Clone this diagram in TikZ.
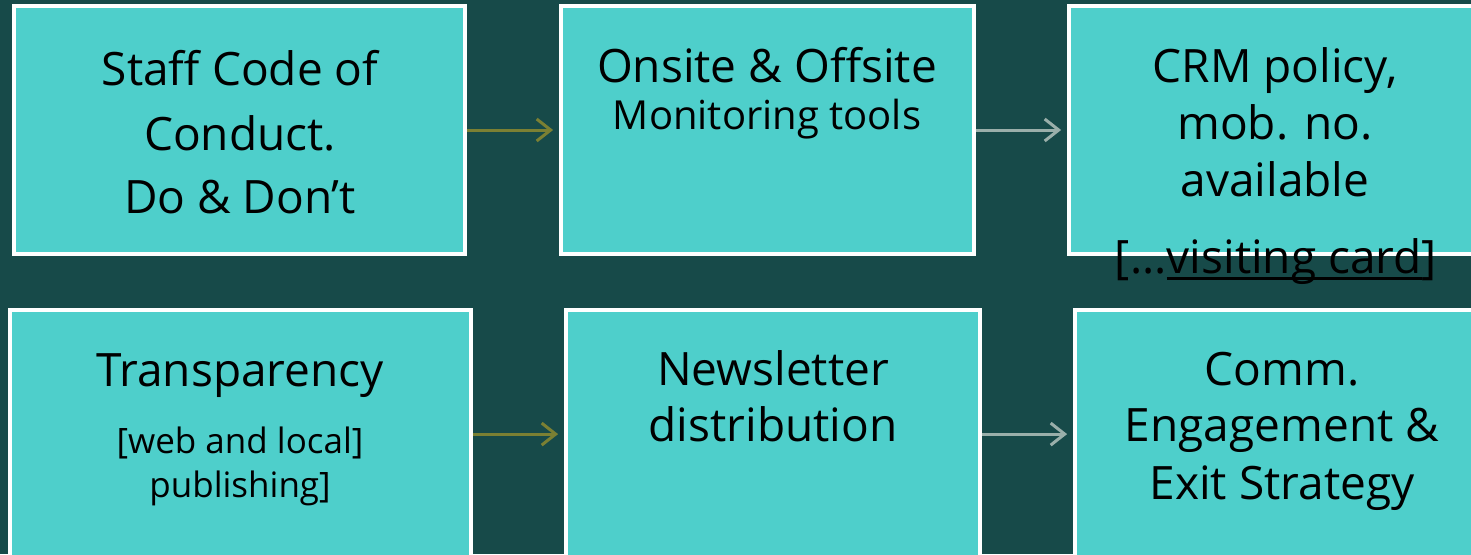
\documentclass[tikz,border=0pt]{standalone}
\usepackage{fontspec}
\setmainfont{Open Sans}
\usetikzlibrary{arrows.meta}
\definecolor{bgc}{HTML}{174A49}
\definecolor{boxc}{HTML}{4ECFCB}
\definecolor{olive}{HTML}{7B8033}
\definecolor{greyar}{HTML}{9AAFAA}
\newcommand\myul[1]{\leavevmode\setbox0\hbox{#1}\rlap{\rule[-6.5pt]{\wd0}{2.5pt}}\box0}
\tikzset{
  box/.style={draw=white, line width=3.8pt, fill=boxc, rectangle, inner sep=0pt},
  big/.style={anchor=base, inner sep=0pt, text=black, font=\fontsize{46}{56}\selectfont},
  mid/.style={anchor=base, inner sep=0pt, text=black, font=\fontsize{40}{48}\selectfont},
  small/.style={anchor=base, inner sep=0pt, text=black, font=\fontsize{35}{42}\selectfont},
  conn/.style={line width=3pt, -{Straight Barb[length=14pt,width=22pt,line width=3pt]}, shorten >=6pt},
}
\begin{document}
\begin{tikzpicture}[x=1pt,y=-1pt]
\useasboundingbox (0,0) rectangle (1471,554);
\fill[bgc] (0,0) rectangle (1471,554);
\clip (0,0) rectangle (1471,554);
% boxes
\node[box, minimum width=451pt, minimum height=248pt] (b1) at (239.5,130) {};
\node[box, minimum width=413pt, minimum height=248pt] (b2) at (767.5,130) {};
\node[box, minimum width=450pt, minimum height=248pt] (b3) at (1294,130) {};
\node[box, minimum width=461pt, minimum height=290pt] (b4) at (240.5,455) {};
\node[box, minimum width=414pt, minimum height=290pt] (b5) at (773,455) {};
\node[box, minimum width=446pt, minimum height=290pt] (b6) at (1298,455) {};
% connectors
\draw[conn, olive] (b1.east) -- (b2.west);
\draw[conn, greyar] (b2.east) -- (b3.west);
\draw[conn, olive] ([yshift=-126pt]b4.north east) -- ([yshift=-126pt]b5.north west);
\draw[conn, greyar] ([yshift=-126pt]b5.north east) -- ([yshift=-126pt]b6.north west);
% texts box 1
\node[big] (t1a) at (240,85) {Staff Code of};
\node[big] (t1b) at (240,150) {Conduct.};
\node[big] (t1c) at (240,213) {Do \& Don’t};
% box 2
\node[big] (t2a) at (767,82) {Onsite \& Offsite};
\node[mid] (t2b) at (767,129) {Monitoring tools};
% box 3
\node[big] (t3a) at (1275,82) {CRM policy,};
\node[big] (t3b) at (1275,139) {mob. no.};
\node[big] (t3c) at (1275,196) {available};
\node[big] (t3d) at (1276,273) {[...\myul{visiting card}]};
% box 4
\node[big] (t4a) at (240,386) {Transparency};
\node[small] (t4b) at (240,453) {[web and local]};
\node[small] (t4c) at (240,497) {publishing]};
% box 5
\node[big] (t5a) at (773,385) {Newsletter};
\node[big] (t5b) at (773,441) {distribution};
% box 6
\node[big] (t6a) at (1282,385) {Comm.};
\node[big] (t6b) at (1282,441) {Engagement \&};
\node[big] (t6c) at (1282,499) {Exit Strategy};
\end{tikzpicture}
\end{document}
